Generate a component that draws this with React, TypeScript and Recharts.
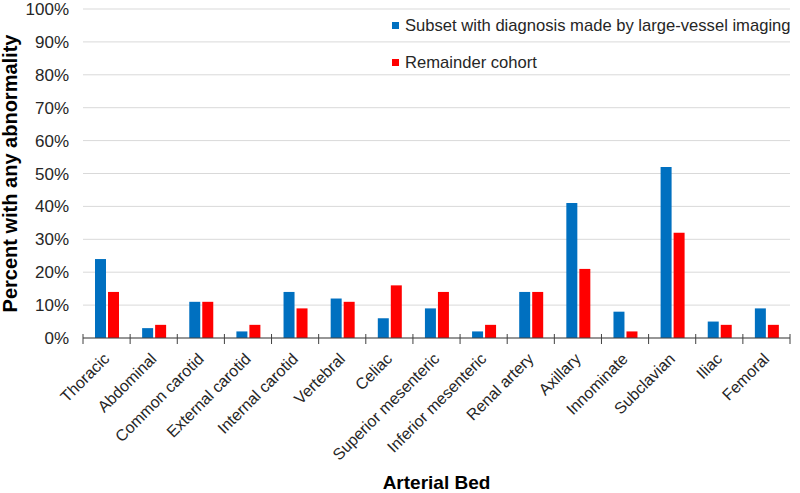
import { BarChart, Bar, XAxis, YAxis, CartesianGrid, Label } from "recharts";

const categories = [
  "Thoracic",
  "Abdominal",
  "Common carotid",
  "External carotid",
  "Internal carotid",
  "Vertebral",
  "Celiac",
  "Superior mesenteric",
  "Inferior mesenteric",
  "Renal artery",
  "Axillary",
  "Innominate",
  "Subclavian",
  "Iliac",
  "Femoral",
];
const imagingSubset = [24, 3, 11, 2, 14, 12, 6, 9, 2, 14, 41, 8, 52, 5, 9];
const remainderCohort = [14, 4, 11, 4, 9, 11, 16, 14, 4, 14, 21, 2, 32, 4, 4];
const yTicks = [0, 10, 20, 30, 40, 50, 60, 70, 80, 90, 100];

const data = categories.map((name, i) => ({
  name,
  subset: imagingSubset[i],
  remainder: remainderCohort[i],
}));

const BLUE = "#0070C0";
const RED = "#FF0000";
const AXIS = "#404040";
const TEXT = "#262626";
const FONT = "Liberation Sans, Arial, sans-serif";

const legendItems = [
  { label: "Subset with diagnosis made by large-vessel imaging", color: BLUE },
  { label: "Remainder cohort", color: RED },
];

// category labels, plus the boundary tick marks that cross the axis line
const CategoryTick = (props: any) => {
  const { x, y, payload, index, width } = props;
  const half = width / categories.length / 2;
  const isLast = index === categories.length - 1;
  return (
    <g>
      <line x1={x - half} x2={x - half} y1={y - 12} y2={y - 2} stroke={AXIS} />
      {isLast && <line x1={x + half} x2={x + half} y1={y - 12} y2={y - 2} stroke={AXIS} />}
      <text
        x={0}
        y={0}
        transform={`translate(${x},${y + 10}) rotate(-45)`}
        textAnchor="end"
        dominantBaseline="central"
        fontSize={16}
        fill={TEXT}
        fontFamily={FONT}
      >
        {payload.value}
      </text>
    </g>
  );
};

export default function App() {
  return (
    <div style={{ position: "absolute", left: 0, top: 0, width: 800, height: 493, background: "#fff" }}>
      <BarChart
        width={800}
        height={493}
        data={data}
        margin={{ top: 9, right: 10, left: 0, bottom: 0 }}
        barSize={11}
        barGap={2}
        style={{ fontFamily: FONT }}
      >
        <CartesianGrid vertical={false} stroke="#d9d9d9" />
        <XAxis
          dataKey="name"
          interval={0}
          height={155}
          tickLine={false}
          axisLine={{ stroke: AXIS }}
          tick={<CategoryTick />}
        >
          <Label
            value="Arterial Bed"
            position="insideBottom"
            offset={4}
            style={{ fontWeight: "bold", fontSize: 19, fill: "#000" }}
          />
        </XAxis>
        <YAxis
          width={83}
          domain={[0, 100]}
          ticks={yTicks}
          interval={0}
          tickFormatter={(v: number) => `${v}%`}
          axisLine={false}
          tickLine={false}
          tick={{ fontSize: 17, fill: TEXT }}
          tickMargin={8}
        >
          <Label
            value="Percent with any abnormality"
            angle={-90}
            position="insideLeft"
            offset={10}
            style={{ textAnchor: "middle", fontWeight: "bold", fontSize: 20, fill: "#000" }}
          />
        </YAxis>
        <Bar dataKey="subset" fill={BLUE} isAnimationActive={false} />
        <Bar dataKey="remainder" fill={RED} isAnimationActive={false} />
      </BarChart>
      <div
        style={{
          position: "absolute",
          left: 392,
          top: 7,
          fontFamily: FONT,
          fontSize: 16.6,
          color: TEXT,
          whiteSpace: "nowrap",
        }}
      >
        {legendItems.map((item) => (
          <div key={item.label} style={{ display: "flex", alignItems: "center", height: 37 }}>
            <span style={{ width: 7, height: 7, background: item.color, marginRight: 6, display: "inline-block" }} />
            <span>{item.label}</span>
          </div>
        ))}
      </div>
    </div>
  );
}
